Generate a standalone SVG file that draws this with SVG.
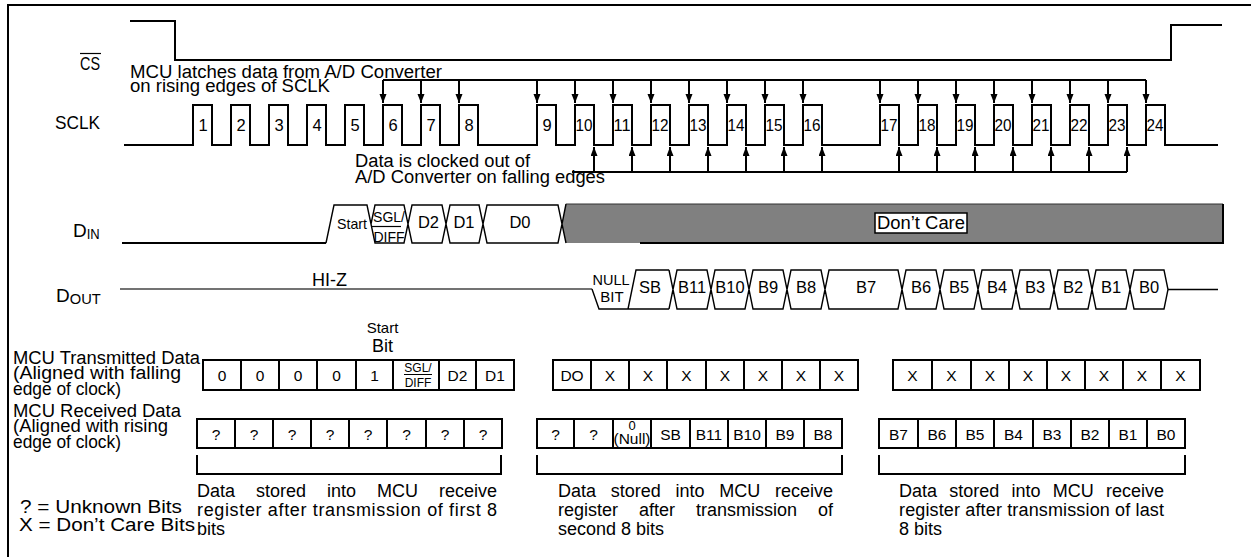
<svg xmlns="http://www.w3.org/2000/svg" width="1251" height="557" viewBox="0 0 1251 557">
<defs>
<marker id="ah" markerUnits="userSpaceOnUse" markerWidth="10" markerHeight="8" refX="9" refY="3.5" orient="auto"><path d="M0,0 L9,3.5 L0,7 z" fill="#000"/></marker>
<style>
text{font-family:"Liberation Sans",Arial,Helvetica,sans-serif;fill:#000}
.w{fill:none;stroke:#000;stroke-width:2}
.h{fill:none;stroke:#000;stroke-width:1.4}
.a{fill:none;stroke:#000;stroke-width:2}
.box{fill:none;stroke:#000;stroke-width:2}
.lbl{font-size:18px}
.n{font-size:16.5px;text-anchor:middle}
.c{font-size:15.5px;text-anchor:middle}
.hx{font-size:16.5px;text-anchor:middle}
.sm{font-size:12px;text-anchor:middle}
.bt{font-size:18px}
</style>
</defs>
<rect width="1251" height="557" fill="#fff"/>
<path class="w" d="M8,557 V5 H1251"/>

<g id="labels">
<text class="lbl" x="80" y="70" textLength="20" lengthAdjust="spacingAndGlyphs">CS</text>
<line x1="80" y1="53.5" x2="101" y2="53.5" stroke="#000" stroke-width="1.2"/>
<text class="lbl" x="55" y="129" textLength="45" lengthAdjust="spacingAndGlyphs">SCLK</text>
<text x="73" y="237" font-size="19">D<tspan font-size="14" y="239" textLength="13" lengthAdjust="spacingAndGlyphs">IN</tspan></text>
<text x="56" y="302" font-size="19">D<tspan font-size="14" y="304" textLength="31" lengthAdjust="spacingAndGlyphs">OUT</tspan></text>
<text class="lbl" x="130" y="77.5" textLength="312" lengthAdjust="spacingAndGlyphs">MCU latches data from A/D Converter</text>
<text class="lbl" x="130" y="91.5" textLength="200" lengthAdjust="spacingAndGlyphs">on rising edges of SCLK</text>
<text class="lbl" x="355" y="167" textLength="175" lengthAdjust="spacingAndGlyphs">Data is clocked out of</text>
<text class="lbl" x="355" y="182.5" textLength="250" lengthAdjust="spacingAndGlyphs">A/D Converter on falling edges</text>
<text class="lbl" x="13" y="363.5" textLength="187" lengthAdjust="spacingAndGlyphs">MCU Transmitted Data</text>
<text class="lbl" x="13" y="379" textLength="168" lengthAdjust="spacingAndGlyphs">(Aligned with falling</text>
<text class="lbl" x="13" y="394.5" textLength="108" lengthAdjust="spacingAndGlyphs">edge of clock)</text>
<text class="lbl" x="13" y="416.5" textLength="168" lengthAdjust="spacingAndGlyphs">MCU Received Data</text>
<text class="lbl" x="13" y="432" textLength="155" lengthAdjust="spacingAndGlyphs">(Aligned with rising</text>
<text class="lbl" x="13" y="448" textLength="108" lengthAdjust="spacingAndGlyphs">edge of clock)</text>
<text class="lbl" x="20" y="513" textLength="162" lengthAdjust="spacingAndGlyphs">? = Unknown Bits</text>
<text class="lbl" x="19" y="530.5" textLength="176" lengthAdjust="spacingAndGlyphs">X = Don’t Care Bits</text>
<text x="382.5" y="333" font-size="15" text-anchor="middle">Start</text>
<text x="382.5" y="351.5" font-size="18" text-anchor="middle">Bit</text>
</g>

<g id="cs-signal">
<path class="w" d="M130,21 H175 V60 H1171 V25 H1222"/>
</g>

<g id="sclk-signal">
<path class="w" d="M124,145 H193 V105 H212 V145 H231 V105 H250 V145 H269 V105 H288 V145 H307 V105 H326 V145 H345 V105 H364 V145 H383 V105 H402 V145 H421 V105 H440 V145 H459 V105 H478 V145 H537 V105 H556 V145 H575 V105 H594 V145 H613 V105 H632 V145 H651 V105 H670 V145 H689 V105 H708 V145 H727 V105 H746 V145 H765 V105 H784 V145 H803 V105 H822 V145 H880 V105 H899 V145 H918 V105 H937 V145 H956 V105 H975 V145 H994 V105 H1013 V145 H1032 V105 H1051 V145 H1070 V105 H1089 V145 H1108 V105 H1127 V145 H1146 V105 H1165 V145 H1218"/>
<text class="n" x="203" y="131">1</text><text class="n" x="241" y="131">2</text><text class="n" x="279" y="131">3</text><text class="n" x="317" y="131">4</text>
<text class="n" x="355" y="131">5</text><text class="n" x="393" y="131">6</text><text class="n" x="431" y="131">7</text><text class="n" x="469" y="131">8</text>
<text class="n" x="547" y="131">9</text>
<g textLength="17" lengthAdjust="spacingAndGlyphs">
<text class="n" x="584" y="131" textLength="17" lengthAdjust="spacingAndGlyphs">10</text><text class="n" x="622" y="131" textLength="17" lengthAdjust="spacingAndGlyphs">11</text><text class="n" x="660" y="131" textLength="17" lengthAdjust="spacingAndGlyphs">12</text>
<text class="n" x="698" y="131" textLength="17" lengthAdjust="spacingAndGlyphs">13</text><text class="n" x="736" y="131" textLength="17" lengthAdjust="spacingAndGlyphs">14</text><text class="n" x="774" y="131" textLength="17" lengthAdjust="spacingAndGlyphs">15</text><text class="n" x="812" y="131" textLength="17" lengthAdjust="spacingAndGlyphs">16</text>
<text class="n" x="889" y="131" textLength="17" lengthAdjust="spacingAndGlyphs">17</text><text class="n" x="927" y="131" textLength="17" lengthAdjust="spacingAndGlyphs">18</text><text class="n" x="965" y="131" textLength="17" lengthAdjust="spacingAndGlyphs">19</text><text class="n" x="1003" y="131" textLength="17" lengthAdjust="spacingAndGlyphs">20</text>
<text class="n" x="1041" y="131" textLength="17" lengthAdjust="spacingAndGlyphs">21</text><text class="n" x="1079" y="131" textLength="17" lengthAdjust="spacingAndGlyphs">22</text><text class="n" x="1117" y="131" textLength="17" lengthAdjust="spacingAndGlyphs">23</text><text class="n" x="1155" y="131" textLength="17" lengthAdjust="spacingAndGlyphs">24</text>
</g>
</g>

<g id="connectors">
<path class="a" d="M383,80 H1146"/>
<g class="a" marker-end="url(#ah)">
<path d="M383,80 V103"/><path d="M421,80 V103"/><path d="M459,80 V103"/><path d="M537,80 V103"/><path d="M575,80 V103"/><path d="M613,80 V103"/><path d="M651,80 V103"/><path d="M689,80 V103"/><path d="M727,80 V103"/><path d="M765,80 V103"/><path d="M803,80 V103"/><path d="M880,80 V103"/><path d="M918,80 V103"/><path d="M956,80 V103"/><path d="M994,80 V103"/><path d="M1032,80 V103"/><path d="M1070,80 V103"/><path d="M1108,80 V103"/><path d="M1146,80 V103"/>
</g>
<path class="a" d="M572,172 H1127"/>
<g class="a" marker-end="url(#ah)">
<path d="M594,172 V147"/><path d="M632,172 V147"/><path d="M670,172 V147"/><path d="M708,172 V147"/><path d="M746,172 V147"/><path d="M784,172 V147"/><path d="M822,172 V147"/><path d="M899,172 V147"/><path d="M937,172 V147"/><path d="M975,172 V147"/><path d="M1013,172 V147"/><path d="M1051,172 V147"/><path d="M1089,172 V147"/><path d="M1127,172 V147"/>
</g>
</g>

<g id="din-signal">
<path d="M562,224 L566,204 H1223 V243 H566 Z" fill="#808080"/>
<path d="M566,204 H1223" stroke="#333" stroke-width="1" fill="none"/>
<path class="w" d="M640,243 H1223 V204"/>
<path class="w" d="M122,243 H326"/>
<path class="h" d="M326,243 L334,205 H367 L375,243 H404 L412,205 H442 L450,243 H479 L487,205 H558 L562,224 L558,243 H487 L479,205 M371,224 L375,205 H404 L412,243 H442 L450,205 H479 L487,243 M562,224 L566,204 M562,224 L566,243"/>
<text x="337" y="228.5" font-size="14.5" textLength="30" lengthAdjust="spacingAndGlyphs">Start</text>
<text x="389" y="221.5" font-size="14" text-anchor="middle">SGL/</text>
<line x1="372" y1="226.5" x2="401" y2="226.5" stroke="#000" stroke-width="1.2"/>
<text x="389" y="241.5" font-size="14" text-anchor="middle">DIFF</text>
<text class="hx" x="428.5" y="228">D2</text>
<text class="hx" x="464" y="228">D1</text>
<text class="hx" x="520" y="228">D0</text>
<rect x="875" y="213" width="92" height="20" fill="#fff" stroke="#000" stroke-width="1.5"/>
<text x="877" y="229" font-size="17.5" textLength="88" lengthAdjust="spacingAndGlyphs">Don’t Care</text>
</g>

<g id="dout-signal">
<path d="M120,289 H592" stroke="#444" stroke-width="1.5" fill="none"/>
<text x="312" y="285.5" font-size="18" textLength="35" lengthAdjust="spacingAndGlyphs">HI-Z</text>
<path class="h" d="M592,289 L599,309 H669 M628,309 L636,270 H669 M1168,289.5 H1218"/>
<path class="h" d="M669,270 L677,309 H707 L715,270 H745 L753,309 H783 L791,270 H821 L829,309 H898 L906,270 H936 L944,309 H974 L982,270 H1012 L1020,309 H1050 L1058,270 H1088 L1096,309 H1126 L1134,270 H1164 L1168,289.5 L1164,309 H1134 L1126,270 H1096 L1088,309 H1058 L1050,270 H1020 L1012,309 H982 L974,270 H944 L936,309 H906 L898,270 H829 L821,309 H791 L783,270 H753 L745,309 H715 L707,270 H677 L669,309"/>
<text x="611" y="285" font-size="15" text-anchor="middle" textLength="37" lengthAdjust="spacingAndGlyphs">NULL</text>
<text x="612" y="302" font-size="15" text-anchor="middle">BIT</text>
<text class="hx" x="650" y="293">SB</text>
<text class="hx" x="692" y="293">B11</text>
<text class="hx" x="730" y="293">B10</text>
<text class="hx" x="768" y="293">B9</text>
<text class="hx" x="806" y="293">B8</text>
<text class="hx" x="866" y="293">B7</text>
<text class="hx" x="921" y="293">B6</text>
<text class="hx" x="959" y="293">B5</text>
<text class="hx" x="997" y="293">B4</text>
<text class="hx" x="1035" y="293">B3</text>
<text class="hx" x="1073" y="293">B2</text>
<text class="hx" x="1111" y="293">B1</text>
<text class="hx" x="1149" y="293">B0</text>
</g>

<g id="tx-row">
<rect class="box" x="203" y="360" width="311" height="30"/>
<path class="box" d="M241,360 V390 M279,360 V390 M317,360 V390 M356,360 V390 M393,360 V390 M439,360 V390 M476,360 V390"/>
<text class="c" x="222" y="380.5">0</text><text class="c" x="260" y="380.5">0</text><text class="c" x="298" y="380.5">0</text><text class="c" x="336.5" y="380.5">0</text><text class="c" x="374.5" y="380.5">1</text>
<text class="sm" x="418" y="371.5">SGL/</text>
<line x1="404" y1="374.5" x2="432" y2="374.5" stroke="#000" stroke-width="1"/>
<text class="sm" x="418" y="386.5">DIFF</text>
<text class="c" x="457.5" y="380.5">D2</text><text class="c" x="495" y="380.5">D1</text>
<rect class="box" x="553" y="360" width="305" height="30"/>
<path class="box" d="M591,360 V390 M629,360 V390 M667,360 V390 M706,360 V390 M744,360 V390 M782,360 V390 M820,360 V390"/>
<text class="c" x="572" y="380.5">DO</text><text class="c" x="610" y="380.5">X</text><text class="c" x="648" y="380.5">X</text><text class="c" x="686.5" y="380.5">X</text><text class="c" x="725" y="380.5">X</text><text class="c" x="763" y="380.5">X</text><text class="c" x="801" y="380.5">X</text><text class="c" x="839" y="380.5">X</text>
<rect class="box" x="893" y="360" width="307" height="30"/>
<path class="box" d="M932,360 V390 M971,360 V390 M1009,360 V390 M1047,360 V390 M1085,360 V390 M1123,360 V390 M1161,360 V390"/>
<text class="c" x="912.5" y="380.5">X</text><text class="c" x="951.5" y="380.5">X</text><text class="c" x="990" y="380.5">X</text><text class="c" x="1028" y="380.5">X</text><text class="c" x="1066" y="380.5">X</text><text class="c" x="1104" y="380.5">X</text><text class="c" x="1142" y="380.5">X</text><text class="c" x="1180.5" y="380.5">X</text>
</g>

<g id="rx-row">
<rect class="box" x="197" y="419" width="305" height="29"/>
<path class="box" d="M235,419 V448 M273,419 V448 M311,419 V448 M349,419 V448 M387,419 V448 M426,419 V448 M464,419 V448"/>
<text class="c" x="216" y="439.5">?</text><text class="c" x="254" y="439.5">?</text><text class="c" x="292" y="439.5">?</text><text class="c" x="330" y="439.5">?</text><text class="c" x="368" y="439.5">?</text><text class="c" x="406.5" y="439.5">?</text><text class="c" x="445" y="439.5">?</text><text class="c" x="483" y="439.5">?</text>
<rect class="box" x="537" y="419" width="305" height="29"/>
<path class="box" d="M574,419 V448 M613,419 V448 M651,419 V448 M690,419 V448 M728,419 V448 M766,419 V448 M804,419 V448"/>
<text class="c" x="555.5" y="439.5">?</text><text class="c" x="593.5" y="439.5">?</text>
<text x="632" y="430" font-size="13" text-anchor="middle">0</text>
<text x="632" y="444" font-size="14.5" text-anchor="middle" textLength="37" lengthAdjust="spacingAndGlyphs">(Null)</text>
<text class="c" x="670.5" y="439.5">SB</text><text class="c" x="709" y="439.5">B11</text><text class="c" x="747" y="439.5">B10</text><text class="c" x="785" y="439.5">B9</text><text class="c" x="823" y="439.5">B8</text>
<rect class="box" x="879" y="419" width="306" height="29"/>
<path class="box" d="M918,419 V448 M956,419 V448 M994,419 V448 M1033,419 V448 M1071,419 V448 M1109,419 V448 M1147,419 V448"/>
<text class="c" x="898.5" y="439.5">B7</text><text class="c" x="937" y="439.5">B6</text><text class="c" x="975" y="439.5">B5</text><text class="c" x="1013.5" y="439.5">B4</text><text class="c" x="1052" y="439.5">B3</text><text class="c" x="1090" y="439.5">B2</text><text class="c" x="1128" y="439.5">B1</text><text class="c" x="1166" y="439.5">B0</text>
</g>

<g id="brackets">
<path class="box" d="M197,455 V474 H501 V455"/>
<path class="box" d="M537,455 V474 H842 V455"/>
<path class="box" d="M879,455 V474 H1185 V455"/>
<text class="bt" y="497"><tspan x="197">Data</tspan><tspan x="256">stored</tspan><tspan x="327">into</tspan><tspan x="377">MCU</tspan><tspan x="439">receive</tspan></text>
<text class="bt" x="197" y="516" textLength="300" lengthAdjust="spacing">register after transmission of first 8</text>
<text class="bt" x="197" y="535">bits</text>
<text class="bt" y="497"><tspan x="558">Data</tspan><tspan x="610.8">stored</tspan><tspan x="675.5">into</tspan><tspan x="719.3">MCU</tspan><tspan x="775">receive</tspan></text>
<text class="bt" y="516"><tspan x="558">register</tspan><tspan x="639">after</tspan><tspan x="696">transmission</tspan><tspan x="818">of</tspan></text>
<text class="bt" x="558" y="535">second 8 bits</text>
<text class="bt" y="497"><tspan x="899">Data</tspan><tspan x="949.3">stored</tspan><tspan x="1011.5">into</tspan><tspan x="1052.8">MCU</tspan><tspan x="1106">receive</tspan></text>
<text class="bt" x="899" y="516" textLength="265" lengthAdjust="spacing">register after transmission of last</text>
<text class="bt" x="899" y="535">8 bits</text>
</g>
</svg>
